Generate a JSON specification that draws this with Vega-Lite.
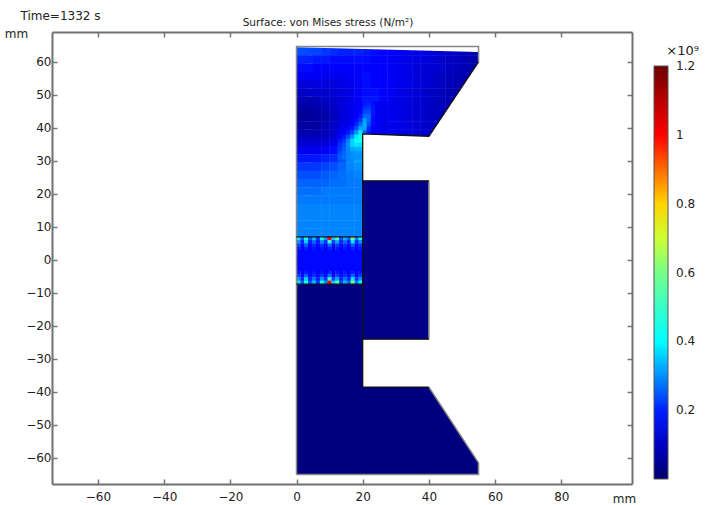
{"$schema":"https://vega.github.io/schema/vega-lite/v6.json","width":580,"height":452,"autosize":{"type":"none"},"padding":{"left":52,"top":32,"right":79,"bottom":21},"background":"white",
"title":{"text":"Surface: von Mises stress (N/m²)","font":"DejaVu Sans","fontSize":10.5,"fontWeight":"normal","color":"#222","anchor":"middle","dx":-14,"offset":-19},
"config":{"view":{"stroke":null},"font":"DejaVu Sans"},
"datasets":{
"blocks":[{"x":0,"x2":20,"y":-65,"y2":-7.3,"v":0.02},{"x":19.5,"x2":55,"y":-65,"y2":-38.5,"v":0.02},{"x":0,"x2":20,"y":-3.3,"y2":3,"v":0.175}],
"mid":[{"x":20,"x2":40,"y":-24,"y2":24,"v":0.03}],
"holeMask":[{"x":20,"y":38.2,"y2":20},{"x":40,"y":37.5,"y2":20},{"x":55,"y":60,"y2":20},{"x":57,"y":63,"y2":20}],
"chamferMask":[{"x":40,"y":-38.5,"y2":-37},{"x":55,"y":-61.5,"y2":-37},{"x":57,"y":-61.5,"y2":-37}],
"topMask":[{"x":0,"y":64.5,"y2":66},{"x":55,"y":63,"y2":66}],
"grid":[
{"x":1.25,"y":63.25,"v":0.24},{"x":3.75,"y":63.25,"v":0.235},{"x":6.25,"y":63.25,"v":0.23},{"x":8.75,"y":63.25,"v":0.22},{"x":11.25,"y":63.25,"v":0.21},{"x":13.75,"y":63.25,"v":0.2},{"x":16.25,"y":63.25,"v":0.2},{"x":18.75,"y":63.25,"v":0.2},{"x":21.25,"y":63.25,"v":0.19},{"x":23.75,"y":63.25,"v":0.18},{"x":26.25,"y":63.25,"v":0.17},{"x":28.75,"y":63.25,"v":0.17},{"x":31.25,"y":63.25,"v":0.16},{"x":33.75,"y":63.25,"v":0.15},{"x":36.25,"y":63.25,"v":0.14},{"x":38.75,"y":63.25,"v":0.14},{"x":41.25,"y":63.25,"v":0.13},{"x":43.75,"y":63.25,"v":0.12},{"x":46.25,"y":63.25,"v":0.11},{"x":48.75,"y":63.25,"v":0.1},{"x":51.25,"y":63.25,"v":0.09},{"x":53.75,"y":63.25,"v":0.08},
{"x":1.25,"y":60.75,"v":0.2},{"x":3.75,"y":60.75,"v":0.2},{"x":6.25,"y":60.75,"v":0.19},{"x":8.75,"y":60.75,"v":0.19},{"x":11.25,"y":60.75,"v":0.18},{"x":13.75,"y":60.75,"v":0.18},{"x":16.25,"y":60.75,"v":0.18},{"x":18.75,"y":60.75,"v":0.18},{"x":21.25,"y":60.75,"v":0.18},{"x":23.75,"y":60.75,"v":0.17},{"x":26.25,"y":60.75,"v":0.17},{"x":28.75,"y":60.75,"v":0.16},{"x":31.25,"y":60.75,"v":0.15},{"x":33.75,"y":60.75,"v":0.14},{"x":36.25,"y":60.75,"v":0.14},{"x":38.75,"y":60.75,"v":0.13},{"x":41.25,"y":60.75,"v":0.12},{"x":43.75,"y":60.75,"v":0.11},{"x":46.25,"y":60.75,"v":0.1},{"x":48.75,"y":60.75,"v":0.1},{"x":51.25,"y":60.75,"v":0.08},{"x":53.75,"y":60.75,"v":0.07},
{"x":1.25,"y":58.25,"v":0.18},{"x":3.75,"y":58.25,"v":0.18},{"x":6.25,"y":58.25,"v":0.17},{"x":8.75,"y":58.25,"v":0.17},{"x":11.25,"y":58.25,"v":0.17},{"x":13.75,"y":58.25,"v":0.17},{"x":16.25,"y":58.25,"v":0.17},{"x":18.75,"y":58.25,"v":0.17},{"x":21.25,"y":58.25,"v":0.17},{"x":23.75,"y":58.25,"v":0.17},{"x":26.25,"y":58.25,"v":0.17},{"x":28.75,"y":58.25,"v":0.16},{"x":31.25,"y":58.25,"v":0.15},{"x":33.75,"y":58.25,"v":0.14},{"x":36.25,"y":58.25,"v":0.13},{"x":38.75,"y":58.25,"v":0.12},{"x":41.25,"y":58.25,"v":0.12},{"x":43.75,"y":58.25,"v":0.11},{"x":46.25,"y":58.25,"v":0.1},{"x":48.75,"y":58.25,"v":0.09},{"x":51.25,"y":58.25,"v":0.08},{"x":53.75,"y":58.25,"v":0.07},
{"x":1.25,"y":55.75,"v":0.16},{"x":3.75,"y":55.75,"v":0.16},{"x":6.25,"y":55.75,"v":0.16},{"x":8.75,"y":55.75,"v":0.15},{"x":11.25,"y":55.75,"v":0.15},{"x":13.75,"y":55.75,"v":0.15},{"x":16.25,"y":55.75,"v":0.16},{"x":18.75,"y":55.75,"v":0.17},{"x":21.25,"y":55.75,"v":0.18},{"x":23.75,"y":55.75,"v":0.17},{"x":26.25,"y":55.75,"v":0.17},{"x":28.75,"y":55.75,"v":0.16},{"x":31.25,"y":55.75,"v":0.15},{"x":33.75,"y":55.75,"v":0.14},{"x":36.25,"y":55.75,"v":0.13},{"x":38.75,"y":55.75,"v":0.12},{"x":41.25,"y":55.75,"v":0.11},{"x":43.75,"y":55.75,"v":0.1},{"x":46.25,"y":55.75,"v":0.09},{"x":48.75,"y":55.75,"v":0.08},{"x":51.25,"y":55.75,"v":0.08},{"x":53.75,"y":55.75,"v":0.07},
{"x":1.25,"y":53.25,"v":0.13},{"x":3.75,"y":53.25,"v":0.13},{"x":6.25,"y":53.25,"v":0.13},{"x":8.75,"y":53.25,"v":0.13},{"x":11.25,"y":53.25,"v":0.13},{"x":13.75,"y":53.25,"v":0.14},{"x":16.25,"y":53.25,"v":0.15},{"x":18.75,"y":53.25,"v":0.16},{"x":21.25,"y":53.25,"v":0.18},{"x":23.75,"y":53.25,"v":0.17},{"x":26.25,"y":53.25,"v":0.17},{"x":28.75,"y":53.25,"v":0.16},{"x":31.25,"y":53.25,"v":0.15},{"x":33.75,"y":53.25,"v":0.14},{"x":36.25,"y":53.25,"v":0.13},{"x":38.75,"y":53.25,"v":0.12},{"x":41.25,"y":53.25,"v":0.11},{"x":43.75,"y":53.25,"v":0.1},{"x":46.25,"y":53.25,"v":0.09},{"x":48.75,"y":53.25,"v":0.08},{"x":51.25,"y":53.25,"v":0.07},
{"x":1.25,"y":50.75,"v":0.1},{"x":3.75,"y":50.75,"v":0.11},{"x":6.25,"y":50.75,"v":0.11},{"x":8.75,"y":50.75,"v":0.11},{"x":11.25,"y":50.75,"v":0.12},{"x":13.75,"y":50.75,"v":0.13},{"x":16.25,"y":50.75,"v":0.14},{"x":18.75,"y":50.75,"v":0.16},{"x":21.25,"y":50.75,"v":0.18},{"x":23.75,"y":50.75,"v":0.18},{"x":26.25,"y":50.75,"v":0.17},{"x":28.75,"y":50.75,"v":0.16},{"x":31.25,"y":50.75,"v":0.14},{"x":33.75,"y":50.75,"v":0.13},{"x":36.25,"y":50.75,"v":0.12},{"x":38.75,"y":50.75,"v":0.11},{"x":41.25,"y":50.75,"v":0.1},{"x":43.75,"y":50.75,"v":0.09},{"x":46.25,"y":50.75,"v":0.08},{"x":48.75,"y":50.75,"v":0.07},
{"x":1.25,"y":48.25,"v":0.08},{"x":3.75,"y":48.25,"v":0.08},{"x":6.25,"y":48.25,"v":0.09},{"x":8.75,"y":48.25,"v":0.1},{"x":11.25,"y":48.25,"v":0.11},{"x":13.75,"y":48.25,"v":0.12},{"x":16.25,"y":48.25,"v":0.14},{"x":18.75,"y":48.25,"v":0.16},{"x":21.25,"y":48.25,"v":0.19},{"x":23.75,"y":48.25,"v":0.19},{"x":26.25,"y":48.25,"v":0.17},{"x":28.75,"y":48.25,"v":0.15},{"x":31.25,"y":48.25,"v":0.14},{"x":33.75,"y":48.25,"v":0.13},{"x":36.25,"y":48.25,"v":0.12},{"x":38.75,"y":48.25,"v":0.11},{"x":41.25,"y":48.25,"v":0.1},{"x":43.75,"y":48.25,"v":0.09},{"x":46.25,"y":48.25,"v":0.08},{"x":48.75,"y":48.25,"v":0.07},
{"x":1.25,"y":45.75,"v":0.06},{"x":3.75,"y":45.75,"v":0.06},{"x":6.25,"y":45.75,"v":0.07},{"x":8.75,"y":45.75,"v":0.08},{"x":11.25,"y":45.75,"v":0.1},{"x":13.75,"y":45.75,"v":0.12},{"x":16.25,"y":45.75,"v":0.14},{"x":18.75,"y":45.75,"v":0.17},{"x":21.25,"y":45.75,"v":0.22},{"x":23.75,"y":45.75,"v":0.19},{"x":26.25,"y":45.75,"v":0.16},{"x":28.75,"y":45.75,"v":0.15},{"x":31.25,"y":45.75,"v":0.14},{"x":33.75,"y":45.75,"v":0.13},{"x":36.25,"y":45.75,"v":0.12},{"x":38.75,"y":45.75,"v":0.11},{"x":41.25,"y":45.75,"v":0.1},{"x":43.75,"y":45.75,"v":0.09},{"x":46.25,"y":45.75,"v":0.08},
{"x":1.25,"y":43.25,"v":0.05},{"x":3.75,"y":43.25,"v":0.05},{"x":6.25,"y":43.25,"v":0.06},{"x":8.75,"y":43.25,"v":0.07},{"x":11.25,"y":43.25,"v":0.09},{"x":13.75,"y":43.25,"v":0.12},{"x":16.25,"y":43.25,"v":0.15},{"x":18.75,"y":43.25,"v":0.19},{"x":21.25,"y":43.25,"v":0.3},{"x":23.75,"y":43.25,"v":0.2},{"x":26.25,"y":43.25,"v":0.16},{"x":28.75,"y":43.25,"v":0.15},{"x":31.25,"y":43.25,"v":0.14},{"x":33.75,"y":43.25,"v":0.13},{"x":36.25,"y":43.25,"v":0.12},{"x":38.75,"y":43.25,"v":0.11},{"x":41.25,"y":43.25,"v":0.1},{"x":43.75,"y":43.25,"v":0.09},
{"x":1.25,"y":40.75,"v":0.06},{"x":3.75,"y":40.75,"v":0.06},{"x":6.25,"y":40.75,"v":0.06},{"x":8.75,"y":40.75,"v":0.08},{"x":11.25,"y":40.75,"v":0.1},{"x":13.75,"y":40.75,"v":0.13},{"x":16.25,"y":40.75,"v":0.17},{"x":18.75,"y":40.75,"v":0.24},{"x":21.25,"y":40.75,"v":0.3},{"x":23.75,"y":40.75,"v":0.19},{"x":26.25,"y":40.75,"v":0.16},{"x":28.75,"y":40.75,"v":0.15},{"x":31.25,"y":40.75,"v":0.14},{"x":33.75,"y":40.75,"v":0.13},{"x":36.25,"y":40.75,"v":0.12},{"x":38.75,"y":40.75,"v":0.11},{"x":41.25,"y":40.75,"v":0.1},{"x":43.75,"y":40.75,"v":0.09},
{"x":1.25,"y":38.25,"v":0.08},{"x":3.75,"y":38.25,"v":0.08},{"x":6.25,"y":38.25,"v":0.08},{"x":8.75,"y":38.25,"v":0.09},{"x":11.25,"y":38.25,"v":0.11},{"x":13.75,"y":38.25,"v":0.15},{"x":16.25,"y":38.25,"v":0.22},{"x":18.75,"y":38.25,"v":0.36},{"x":21.25,"y":38.25,"v":0.27},{"x":23.75,"y":38.25,"v":0.18},{"x":26.25,"y":38.25,"v":0.16},{"x":28.75,"y":38.25,"v":0.15},{"x":31.25,"y":38.25,"v":0.14},{"x":33.75,"y":38.25,"v":0.13},{"x":36.25,"y":38.25,"v":0.12},{"x":38.75,"y":38.25,"v":0.11},{"x":41.25,"y":38.25,"v":0.1},
{"x":1.25,"y":35.75,"v":0.11},{"x":3.75,"y":35.75,"v":0.11},{"x":6.25,"y":35.75,"v":0.11},{"x":8.75,"y":35.75,"v":0.12},{"x":11.25,"y":35.75,"v":0.14},{"x":13.75,"y":35.75,"v":0.19},{"x":16.25,"y":35.75,"v":0.31},{"x":18.75,"y":35.75,"v":0.42},
{"x":1.25,"y":33.25,"v":0.15},{"x":3.75,"y":33.25,"v":0.15},{"x":6.25,"y":33.25,"v":0.15},{"x":8.75,"y":33.25,"v":0.16},{"x":11.25,"y":33.25,"v":0.18},{"x":13.75,"y":33.25,"v":0.22},{"x":16.25,"y":33.25,"v":0.31},{"x":18.75,"y":33.25,"v":0.38},
{"x":1.25,"y":30.75,"v":0.19},{"x":3.75,"y":30.75,"v":0.19},{"x":6.25,"y":30.75,"v":0.19},{"x":8.75,"y":30.75,"v":0.2},{"x":11.25,"y":30.75,"v":0.21},{"x":13.75,"y":30.75,"v":0.24},{"x":16.25,"y":30.75,"v":0.29},{"x":18.75,"y":30.75,"v":0.32},
{"x":1.25,"y":28.25,"v":0.22},{"x":3.75,"y":28.25,"v":0.22},{"x":6.25,"y":28.25,"v":0.22},{"x":8.75,"y":28.25,"v":0.23},{"x":11.25,"y":28.25,"v":0.24},{"x":13.75,"y":28.25,"v":0.26},{"x":16.25,"y":28.25,"v":0.29},{"x":18.75,"y":28.25,"v":0.3},
{"x":1.25,"y":25.75,"v":0.24},{"x":3.75,"y":25.75,"v":0.24},{"x":6.25,"y":25.75,"v":0.24},{"x":8.75,"y":25.75,"v":0.25},{"x":11.25,"y":25.75,"v":0.26},{"x":13.75,"y":25.75,"v":0.27},{"x":16.25,"y":25.75,"v":0.28},{"x":18.75,"y":25.75,"v":0.29},
{"x":1.25,"y":23.25,"v":0.26},{"x":3.75,"y":23.25,"v":0.26},{"x":6.25,"y":23.25,"v":0.26},{"x":8.75,"y":23.25,"v":0.26},{"x":11.25,"y":23.25,"v":0.27},{"x":13.75,"y":23.25,"v":0.27},{"x":16.25,"y":23.25,"v":0.28},{"x":18.75,"y":23.25,"v":0.28},
{"x":1.25,"y":20.75,"v":0.27},{"x":3.75,"y":20.75,"v":0.27},{"x":6.25,"y":20.75,"v":0.27},{"x":8.75,"y":20.75,"v":0.28},{"x":11.25,"y":20.75,"v":0.28},{"x":13.75,"y":20.75,"v":0.28},{"x":16.25,"y":20.75,"v":0.28},{"x":18.75,"y":20.75,"v":0.28},
{"x":1.25,"y":18.25,"v":0.28},{"x":3.75,"y":18.25,"v":0.28},{"x":6.25,"y":18.25,"v":0.28},{"x":8.75,"y":18.25,"v":0.28},{"x":11.25,"y":18.25,"v":0.28},{"x":13.75,"y":18.25,"v":0.28},{"x":16.25,"y":18.25,"v":0.28},{"x":18.75,"y":18.25,"v":0.28},
{"x":1.25,"y":15.75,"v":0.29},{"x":3.75,"y":15.75,"v":0.29},{"x":6.25,"y":15.75,"v":0.29},{"x":8.75,"y":15.75,"v":0.29},{"x":11.25,"y":15.75,"v":0.29},{"x":13.75,"y":15.75,"v":0.29},{"x":16.25,"y":15.75,"v":0.29},{"x":18.75,"y":15.75,"v":0.29},
{"x":1.25,"y":13.25,"v":0.29},{"x":3.75,"y":13.25,"v":0.29},{"x":6.25,"y":13.25,"v":0.29},{"x":8.75,"y":13.25,"v":0.29},{"x":11.25,"y":13.25,"v":0.29},{"x":13.75,"y":13.25,"v":0.29},{"x":16.25,"y":13.25,"v":0.29},{"x":18.75,"y":13.25,"v":0.29},
{"x":1.25,"y":10.75,"v":0.29},{"x":3.75,"y":10.75,"v":0.29},{"x":6.25,"y":10.75,"v":0.29},{"x":8.75,"y":10.75,"v":0.29},{"x":11.25,"y":10.75,"v":0.29},{"x":13.75,"y":10.75,"v":0.29},{"x":16.25,"y":10.75,"v":0.29},{"x":18.75,"y":10.75,"v":0.29},
{"x":1.25,"y":8.25,"v":0.29},{"x":3.75,"y":8.25,"v":0.29},{"x":6.25,"y":8.25,"v":0.29},{"x":8.75,"y":8.25,"v":0.29},{"x":11.25,"y":8.25,"v":0.29},{"x":13.75,"y":8.25,"v":0.29},{"x":16.25,"y":8.25,"v":0.29},{"x":18.75,"y":8.25,"v":0.29}
],
"detail":[
{"x":13.125,"y":47.375,"v":0.13},{"x":14.375,"y":47.375,"v":0.14},{"x":15.625,"y":47.375,"v":0.14},{"x":16.875,"y":47.375,"v":0.15},{"x":18.125,"y":47.375,"v":0.16},{"x":19.375,"y":47.375,"v":0.17},{"x":20.625,"y":47.375,"v":0.19},{"x":21.875,"y":47.375,"v":0.2},{"x":23.125,"y":47.375,"v":0.18},{"x":24.375,"y":47.375,"v":0.16},{"x":25.625,"y":47.375,"v":0.15},{"x":26.875,"y":47.375,"v":0.15},
{"x":13.125,"y":46.125,"v":0.13},{"x":14.375,"y":46.125,"v":0.13},{"x":15.625,"y":46.125,"v":0.14},{"x":16.875,"y":46.125,"v":0.15},{"x":18.125,"y":46.125,"v":0.16},{"x":19.375,"y":46.125,"v":0.17},{"x":20.625,"y":46.125,"v":0.21},{"x":21.875,"y":46.125,"v":0.22},{"x":23.125,"y":46.125,"v":0.19},{"x":24.375,"y":46.125,"v":0.16},{"x":25.625,"y":46.125,"v":0.15},{"x":26.875,"y":46.125,"v":0.15},
{"x":13.125,"y":44.875,"v":0.12},{"x":14.375,"y":44.875,"v":0.13},{"x":15.625,"y":44.875,"v":0.14},{"x":16.875,"y":44.875,"v":0.15},{"x":18.125,"y":44.875,"v":0.16},{"x":19.375,"y":44.875,"v":0.18},{"x":20.625,"y":44.875,"v":0.23},{"x":21.875,"y":44.875,"v":0.24},{"x":23.125,"y":44.875,"v":0.19},{"x":24.375,"y":44.875,"v":0.16},{"x":25.625,"y":44.875,"v":0.15},{"x":26.875,"y":44.875,"v":0.15},
{"x":13.125,"y":43.625,"v":0.12},{"x":14.375,"y":43.625,"v":0.13},{"x":15.625,"y":43.625,"v":0.14},{"x":16.875,"y":43.625,"v":0.15},{"x":18.125,"y":43.625,"v":0.17},{"x":19.375,"y":43.625,"v":0.19},{"x":20.625,"y":43.625,"v":0.26},{"x":21.875,"y":43.625,"v":0.26},{"x":23.125,"y":43.625,"v":0.19},{"x":24.375,"y":43.625,"v":0.16},{"x":25.625,"y":43.625,"v":0.15},{"x":26.875,"y":43.625,"v":0.15},
{"x":13.125,"y":42.375,"v":0.12},{"x":14.375,"y":42.375,"v":0.13},{"x":15.625,"y":42.375,"v":0.14},{"x":16.875,"y":42.375,"v":0.16},{"x":18.125,"y":42.375,"v":0.18},{"x":19.375,"y":42.375,"v":0.22},{"x":20.625,"y":42.375,"v":0.31},{"x":21.875,"y":42.375,"v":0.26},{"x":23.125,"y":42.375,"v":0.18},{"x":24.375,"y":42.375,"v":0.16},{"x":25.625,"y":42.375,"v":0.15},{"x":26.875,"y":42.375,"v":0.14},
{"x":13.125,"y":41.125,"v":0.13},{"x":14.375,"y":41.125,"v":0.14},{"x":15.625,"y":41.125,"v":0.15},{"x":16.875,"y":41.125,"v":0.17},{"x":18.125,"y":41.125,"v":0.2},{"x":19.375,"y":41.125,"v":0.26},{"x":20.625,"y":41.125,"v":0.33},{"x":21.875,"y":41.125,"v":0.24},{"x":23.125,"y":41.125,"v":0.18},{"x":24.375,"y":41.125,"v":0.16},{"x":25.625,"y":41.125,"v":0.15},{"x":26.875,"y":41.125,"v":0.14},
{"x":13.125,"y":39.875,"v":0.14},{"x":14.375,"y":39.875,"v":0.15},{"x":15.625,"y":39.875,"v":0.17},{"x":16.875,"y":39.875,"v":0.19},{"x":18.125,"y":39.875,"v":0.24},{"x":19.375,"y":39.875,"v":0.32},{"x":20.625,"y":39.875,"v":0.32},{"x":21.875,"y":39.875,"v":0.21},{"x":23.125,"y":39.875,"v":0.17},{"x":24.375,"y":39.875,"v":0.16},{"x":25.625,"y":39.875,"v":0.15},{"x":26.875,"y":39.875,"v":0.14},
{"x":13.125,"y":38.625,"v":0.15},{"x":14.375,"y":38.625,"v":0.17},{"x":15.625,"y":38.625,"v":0.19},{"x":16.875,"y":38.625,"v":0.23},{"x":18.125,"y":38.625,"v":0.3},{"x":19.375,"y":38.625,"v":0.38},{"x":20.625,"y":38.625,"v":0.26},{"x":21.875,"y":38.625,"v":0.19},{"x":23.125,"y":38.625,"v":0.17},{"x":24.375,"y":38.625,"v":0.16},{"x":25.625,"y":38.625,"v":0.15},{"x":26.875,"y":38.625,"v":0.14},
{"x":13.125,"y":37.375,"v":0.17},{"x":14.375,"y":37.375,"v":0.19},{"x":15.625,"y":37.375,"v":0.23},{"x":16.875,"y":37.375,"v":0.3},{"x":18.125,"y":37.375,"v":0.38},{"x":19.375,"y":37.375,"v":0.44},
{"x":13.125,"y":36.125,"v":0.19},{"x":14.375,"y":36.125,"v":0.22},{"x":15.625,"y":36.125,"v":0.28},{"x":16.875,"y":36.125,"v":0.36},{"x":18.125,"y":36.125,"v":0.41},{"x":19.375,"y":36.125,"v":0.43},
{"x":13.125,"y":34.875,"v":0.21},{"x":14.375,"y":34.875,"v":0.24},{"x":15.625,"y":34.875,"v":0.3},{"x":16.875,"y":34.875,"v":0.36},{"x":18.125,"y":34.875,"v":0.38},{"x":19.375,"y":34.875,"v":0.37},
{"x":13.125,"y":33.625,"v":0.22},{"x":14.375,"y":33.625,"v":0.25},{"x":15.625,"y":33.625,"v":0.29},{"x":16.875,"y":33.625,"v":0.32},{"x":18.125,"y":33.625,"v":0.33},{"x":19.375,"y":33.625,"v":0.33},
{"x":13.125,"y":32.375,"v":0.24},{"x":14.375,"y":32.375,"v":0.26},{"x":15.625,"y":32.375,"v":0.29},{"x":16.875,"y":32.375,"v":0.3},{"x":18.125,"y":32.375,"v":0.31},{"x":19.375,"y":32.375,"v":0.31},
{"x":13.125,"y":31.125,"v":0.25},{"x":14.375,"y":31.125,"v":0.27},{"x":15.625,"y":31.125,"v":0.29},{"x":16.875,"y":31.125,"v":0.3},{"x":18.125,"y":31.125,"v":0.3},{"x":19.375,"y":31.125,"v":0.3}
],
"band":[
{"x":0.6,"y":6.5,"v":0.38},{"x":1.8,"y":6.5,"v":0.26},{"x":2.9,"y":6.5,"v":0.45},{"x":4.1,"y":6.5,"v":0.25},{"x":5.3,"y":6.5,"v":0.34},{"x":6.5,"y":6.5,"v":0.22},{"x":7.7,"y":6.5,"v":0.42},{"x":8.9,"y":6.5,"v":0.3},{"x":10,"y":6.5,"v":1.0},{"x":11.2,"y":6.5,"v":0.35},{"x":12.4,"y":6.5,"v":0.55},{"x":13.5,"y":6.5,"v":0.24},{"x":14.7,"y":6.5,"v":0.33},{"x":15.9,"y":6.5,"v":0.26},{"x":17,"y":6.5,"v":0.6},{"x":18.2,"y":6.5,"v":0.28},{"x":19.4,"y":6.5,"v":0.4},
{"x":0.6,"y":5.5,"v":0.3},{"x":1.8,"y":5.5,"v":0.2},{"x":2.9,"y":5.5,"v":0.36},{"x":4.1,"y":5.5,"v":0.2},{"x":5.3,"y":5.5,"v":0.27},{"x":6.5,"y":5.5,"v":0.19},{"x":7.7,"y":5.5,"v":0.3},{"x":8.9,"y":5.5,"v":0.21},{"x":10,"y":5.5,"v":0.5},{"x":11.2,"y":5.5,"v":0.23},{"x":12.4,"y":5.5,"v":0.33},{"x":13.5,"y":5.5,"v":0.2},{"x":14.7,"y":5.5,"v":0.27},{"x":15.9,"y":5.5,"v":0.2},{"x":17,"y":5.5,"v":0.38},{"x":18.2,"y":5.5,"v":0.21},{"x":19.4,"y":5.5,"v":0.3},
{"x":0.6,"y":4.5,"v":0.23},{"x":1.8,"y":4.5,"v":0.18},{"x":2.9,"y":4.5,"v":0.26},{"x":4.1,"y":4.5,"v":0.18},{"x":5.3,"y":4.5,"v":0.21},{"x":6.5,"y":4.5,"v":0.18},{"x":7.7,"y":4.5,"v":0.22},{"x":8.9,"y":4.5,"v":0.18},{"x":10,"y":4.5,"v":0.27},{"x":11.2,"y":4.5,"v":0.18},{"x":12.4,"y":4.5,"v":0.23},{"x":13.5,"y":4.5,"v":0.18},{"x":14.7,"y":4.5,"v":0.21},{"x":15.9,"y":4.5,"v":0.18},{"x":17,"y":4.5,"v":0.26},{"x":18.2,"y":4.5,"v":0.18},{"x":19.4,"y":4.5,"v":0.22},
{"x":0.6,"y":3.5,"v":0.19},{"x":1.8,"y":3.5,"v":0.17},{"x":2.9,"y":3.5,"v":0.2},{"x":4.1,"y":3.5,"v":0.17},{"x":5.3,"y":3.5,"v":0.19},{"x":6.5,"y":3.5,"v":0.17},{"x":7.7,"y":3.5,"v":0.19},{"x":8.9,"y":3.5,"v":0.17},{"x":10,"y":3.5,"v":0.2},{"x":11.2,"y":3.5,"v":0.17},{"x":12.4,"y":3.5,"v":0.19},{"x":13.5,"y":3.5,"v":0.17},{"x":14.7,"y":3.5,"v":0.19},{"x":15.9,"y":3.5,"v":0.17},{"x":17,"y":3.5,"v":0.2},{"x":18.2,"y":3.5,"v":0.17},{"x":19.4,"y":3.5,"v":0.19},
{"x":0.6,"y":-3.8,"v":0.19},{"x":1.8,"y":-3.8,"v":0.17},{"x":2.9,"y":-3.8,"v":0.2},{"x":4.1,"y":-3.8,"v":0.17},{"x":5.3,"y":-3.8,"v":0.19},{"x":6.5,"y":-3.8,"v":0.17},{"x":7.7,"y":-3.8,"v":0.19},{"x":8.9,"y":-3.8,"v":0.17},{"x":10,"y":-3.8,"v":0.2},{"x":11.2,"y":-3.8,"v":0.17},{"x":12.4,"y":-3.8,"v":0.19},{"x":13.5,"y":-3.8,"v":0.17},{"x":14.7,"y":-3.8,"v":0.19},{"x":15.9,"y":-3.8,"v":0.17},{"x":17,"y":-3.8,"v":0.2},{"x":18.2,"y":-3.8,"v":0.17},{"x":19.4,"y":-3.8,"v":0.19},
{"x":0.6,"y":-4.8,"v":0.23},{"x":1.8,"y":-4.8,"v":0.18},{"x":2.9,"y":-4.8,"v":0.26},{"x":4.1,"y":-4.8,"v":0.18},{"x":5.3,"y":-4.8,"v":0.21},{"x":6.5,"y":-4.8,"v":0.18},{"x":7.7,"y":-4.8,"v":0.22},{"x":8.9,"y":-4.8,"v":0.18},{"x":10,"y":-4.8,"v":0.27},{"x":11.2,"y":-4.8,"v":0.18},{"x":12.4,"y":-4.8,"v":0.23},{"x":13.5,"y":-4.8,"v":0.18},{"x":14.7,"y":-4.8,"v":0.21},{"x":15.9,"y":-4.8,"v":0.18},{"x":17,"y":-4.8,"v":0.26},{"x":18.2,"y":-4.8,"v":0.18},{"x":19.4,"y":-4.8,"v":0.22},
{"x":0.6,"y":-5.8,"v":0.3},{"x":1.8,"y":-5.8,"v":0.2},{"x":2.9,"y":-5.8,"v":0.36},{"x":4.1,"y":-5.8,"v":0.2},{"x":5.3,"y":-5.8,"v":0.27},{"x":6.5,"y":-5.8,"v":0.19},{"x":7.7,"y":-5.8,"v":0.3},{"x":8.9,"y":-5.8,"v":0.21},{"x":10,"y":-5.8,"v":0.5},{"x":11.2,"y":-5.8,"v":0.23},{"x":12.4,"y":-5.8,"v":0.33},{"x":13.5,"y":-5.8,"v":0.2},{"x":14.7,"y":-5.8,"v":0.27},{"x":15.9,"y":-5.8,"v":0.2},{"x":17,"y":-5.8,"v":0.38},{"x":18.2,"y":-5.8,"v":0.21},{"x":19.4,"y":-5.8,"v":0.3},
{"x":0.6,"y":-6.8,"v":0.38},{"x":1.8,"y":-6.8,"v":0.26},{"x":2.9,"y":-6.8,"v":0.45},{"x":4.1,"y":-6.8,"v":0.25},{"x":5.3,"y":-6.8,"v":0.34},{"x":6.5,"y":-6.8,"v":0.22},{"x":7.7,"y":-6.8,"v":0.42},{"x":8.9,"y":-6.8,"v":0.3},{"x":10,"y":-6.8,"v":1.0},{"x":11.2,"y":-6.8,"v":0.35},{"x":12.4,"y":-6.8,"v":0.55},{"x":13.5,"y":-6.8,"v":0.24},{"x":14.7,"y":-6.8,"v":0.33},{"x":15.9,"y":-6.8,"v":0.26},{"x":17,"y":-6.8,"v":0.6},{"x":18.2,"y":-6.8,"v":0.28},{"x":19.4,"y":-6.8,"v":0.4}
],
"blackLines":[
{"s":"a","i":1,"x":0,"y":7},{"s":"a","i":2,"x":20,"y":7},
{"s":"b","i":1,"x":20,"y":-38.5},{"s":"b","i":2,"x":20,"y":38.2},{"s":"b","i":3,"x":40,"y":37.5},{"s":"b","i":4,"x":55,"y":60},
{"s":"c","i":1,"x":0,"y":-7.3},{"s":"c","i":2,"x":20,"y":-7.3},
{"s":"d","i":1,"x":20,"y":24},{"s":"d","i":2,"x":40,"y":24},
{"s":"e","i":1,"x":20,"y":-24},{"s":"e","i":2,"x":40,"y":-24},
{"s":"f","i":1,"x":20,"y":-38.5},{"s":"f","i":2,"x":40,"y":-38.5}
],
"grayLines":[
{"s":"a","i":1,"x":0,"y":-65},{"s":"a","i":2,"x":0,"y":64.7},{"s":"a","i":3,"x":55,"y":64.7},{"s":"a","i":4,"x":55,"y":60},
{"s":"b","i":1,"x":40,"y":24},{"s":"b","i":2,"x":40,"y":-24},
{"s":"c","i":1,"x":40,"y":-38.5},{"s":"c","i":2,"x":55,"y":-61.5},{"s":"c","i":3,"x":55,"y":-65},{"s":"c","i":4,"x":0,"y":-65}
]
},
"resolve":{"axis":{"x":"independent","y":"independent"}},
"layer":[
{"data":{"name":"blocks"},"mark":{"type":"rect"},"encoding":{
"x":{"field":"x","type":"quantitative","scale":{"domain":[-73.87,101.36],"nice":false,"zero":false},"axis":{"orient":"bottom","values":[-60,-40,-20,0,20,40,60,80],"format":"d","grid":false,"tickSize":-5,"tickWidth":1.5,"tickColor":"#777","domainColor":"#707070","domainWidth":2,"labelFont":"DejaVu Sans","labelFontSize":12,"labelColor":"#222","labelPadding":12,"labelFlush":false,"title":"mm","titleFont":"DejaVu Sans","titleFontSize":12,"titleFontWeight":"normal","titleColor":"#222","titleX":572,"titleY":14,"titleAlign":"center","titleBaseline":"middle"}},
"x2":{"field":"x2"},
"y":{"field":"y","type":"quantitative","scale":{"domain":[-67.88,69.09],"nice":false,"zero":false},"axis":{"orient":"left","values":[-60,-50,-40,-30,-20,-10,0,10,20,30,40,50,60],"format":"d","grid":false,"tickSize":-5,"tickWidth":1.5,"tickColor":"#777","domainColor":"#707070","domainWidth":2,"labelFont":"DejaVu Sans","labelFontSize":12,"labelColor":"#222","labelPadding":6,"title":"mm","titleFont":"DejaVu Sans","titleFontSize":12,"titleFontWeight":"normal","titleColor":"#222","titleAngle":0,"titleX":-36,"titleY":1,"titleAlign":"center","titleBaseline":"middle"}},
"y2":{"field":"y2"},
"color":{"field":"v","type":"quantitative","scale":{"domain":[0,0.17,0.4,0.58,0.76,1.0,1.2],"range":["#00006e","#0000ff","#00ffff","#66ff99","#ffff00","#ff0000","#6e0000"],"interpolate":"rgb"},"legend":{"orient":"none","legendX":602,"legendY":13,"values":[0.2,0.4,0.6,0.8,1,1.2],"labelExpr":"''+round(datum.value*10)/10","gradientLength":413,"gradientThickness":14,"gradientStrokeColor":"#555","gradientStrokeWidth":1,"labelFont":"DejaVu Sans","labelFontSize":12,"labelColor":"#222","labelOffset":8,"title":"×10⁹","titleFont":"DejaVu Sans","titleFontSize":13,"titleFontWeight":"normal","titleColor":"#222","titleAnchor":"end","titlePadding":8,"padding":0,"encode":{"labels":{"update":{"baseline":{"value":"middle"}}},"title":{"update":{"dx":{"value":4}}}}}}
}},
{"data":{"name":"grid"},"mark":{"type":"rect","width":8.7,"height":8.7},"encoding":{
"x":{"field":"x","type":"quantitative","scale":{"domain":[-73.87,101.36],"nice":false,"zero":false},"axis":{"orient":"top","values":[-60,-40,-20,0,20,40,60,80],"grid":false,"labels":false,"tickSize":-5,"tickWidth":1.5,"tickColor":"#777","domainColor":"#707070","domainWidth":2,"title":"Time=1332 s","titleFont":"DejaVu Sans","titleFontSize":12,"titleFontWeight":"normal","titleColor":"#222","titleX":-32,"titleY":-17,"titleAlign":"left","titleBaseline":"middle"}},
"y":{"field":"y","type":"quantitative","scale":{"domain":[-67.88,69.09],"nice":false,"zero":false},"axis":{"orient":"right","values":[-60,-50,-40,-30,-20,-10,0,10,20,30,40,50,60],"grid":false,"labels":false,"tickSize":-5,"tickWidth":1.5,"tickColor":"#777","domainColor":"#707070","domainWidth":2,"title":null}},
"color":{"field":"v","type":"quantitative"}
}},
{"data":{"name":"detail"},"mark":{"type":"rect","width":4.4,"height":4.4},"encoding":{
"x":{"field":"x","type":"quantitative","scale":{"domain":[-73.87,101.36],"nice":false,"zero":false},"axis":null},
"y":{"field":"y","type":"quantitative","scale":{"domain":[-67.88,69.09],"nice":false,"zero":false},"axis":null},
"color":{"field":"v","type":"quantitative"}
}},
{"data":{"name":"band"},"mark":{"type":"rect","width":4.2,"height":3.6},"encoding":{
"x":{"field":"x","type":"quantitative","scale":{"domain":[-73.87,101.36],"nice":false,"zero":false},"axis":null},
"y":{"field":"y","type":"quantitative","scale":{"domain":[-67.88,69.09],"nice":false,"zero":false},"axis":null},
"color":{"field":"v","type":"quantitative"}
}},
{"data":{"name":"holeMask"},"mark":{"type":"area","color":"white","opacity":1},"encoding":{
"x":{"field":"x","type":"quantitative","scale":{"domain":[-73.87,101.36],"nice":false,"zero":false},"axis":null},
"y":{"field":"y","type":"quantitative","scale":{"domain":[-67.88,69.09],"nice":false,"zero":false},"axis":null},
"y2":{"field":"y2"}
}},
{"data":{"name":"chamferMask"},"mark":{"type":"area","color":"white","opacity":1},"encoding":{
"x":{"field":"x","type":"quantitative","scale":{"domain":[-73.87,101.36],"nice":false,"zero":false},"axis":null},
"y":{"field":"y","type":"quantitative","scale":{"domain":[-67.88,69.09],"nice":false,"zero":false},"axis":null},
"y2":{"field":"y2"}
}},
{"data":{"name":"topMask"},"mark":{"type":"area","color":"white","opacity":1},"encoding":{
"x":{"field":"x","type":"quantitative","scale":{"domain":[-73.87,101.36],"nice":false,"zero":false},"axis":null},
"y":{"field":"y","type":"quantitative","scale":{"domain":[-67.88,69.09],"nice":false,"zero":false},"axis":null},
"y2":{"field":"y2"}
}},
{"data":{"name":"mid"},"mark":{"type":"rect"},"encoding":{
"x":{"field":"x","type":"quantitative","scale":{"domain":[-73.87,101.36],"nice":false,"zero":false},"axis":null},
"x2":{"field":"x2"},
"y":{"field":"y","type":"quantitative","scale":{"domain":[-67.88,69.09],"nice":false,"zero":false},"axis":null},
"y2":{"field":"y2"},
"color":{"field":"v","type":"quantitative"}
}},
{"data":{"name":"grayLines"},"mark":{"type":"line","color":"#888","strokeWidth":1.5,"clip":false},"encoding":{
"x":{"field":"x","type":"quantitative","scale":{"domain":[-73.87,101.36],"nice":false,"zero":false},"axis":null},
"y":{"field":"y","type":"quantitative","scale":{"domain":[-67.88,69.09],"nice":false,"zero":false},"axis":null},
"detail":{"field":"s"},"order":{"field":"i"}
}},
{"data":{"name":"blackLines"},"mark":{"type":"line","color":"#111","strokeWidth":1.3},"encoding":{
"x":{"field":"x","type":"quantitative","scale":{"domain":[-73.87,101.36],"nice":false,"zero":false},"axis":null},
"y":{"field":"y","type":"quantitative","scale":{"domain":[-67.88,69.09],"nice":false,"zero":false},"axis":null},
"detail":{"field":"s"},"order":{"field":"i"}
}}
]}
